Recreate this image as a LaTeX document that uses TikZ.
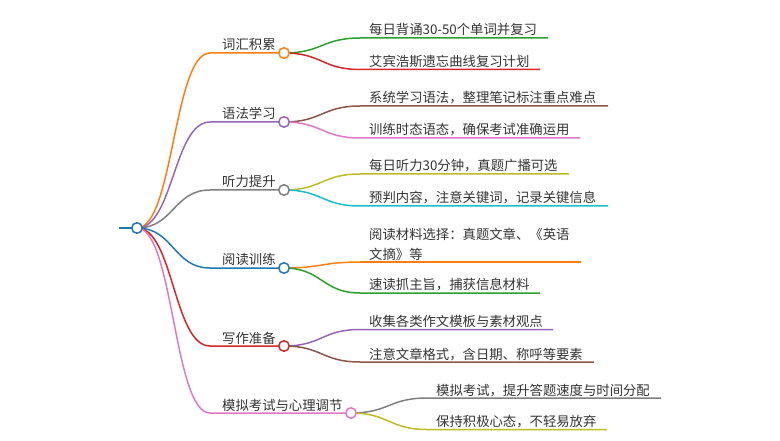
\documentclass[tikz,border=0pt]{standalone}
\usepackage{fontspec}
\setmainfont{Noto Sans CJK SC}
\usetikzlibrary{backgrounds}
\definecolor{cblue}{HTML}{1F77B4}
\definecolor{corange}{HTML}{FF7F0E}
\definecolor{cgreen}{HTML}{2CA02C}
\definecolor{cred}{HTML}{D62728}
\definecolor{cpurple}{HTML}{9467BD}
\definecolor{cbrown}{HTML}{8C564B}
\definecolor{cpink}{HTML}{E377C2}
\definecolor{cgray}{HTML}{7F7F7F}
\definecolor{colive}{HTML}{BCBD22}
\definecolor{ccyan}{HTML}{17BECF}
\definecolor{txt}{HTML}{333333}
\begin{document}
\begin{tikzpicture}[x=1pt,y=-1pt,
  dot/.style={circle,draw,fill=white,line width=1.5pt,minimum size=10.5pt,inner sep=0pt},
  lbl/.style={anchor=base west,inner sep=0pt,text=txt,font=\fontsize{13.35}{19}\selectfont},
  link/.style={line width=1.5pt}]
\useasboundingbox (0,0) rectangle (780,441);

% root
\node[dot,draw=cblue] (root) at (137,228) {};
\coordinate (rl) at (119,228);

% level 1 circles
\node[dot,draw=corange] (n1) at (284,53) {};
\node[dot,draw=cpurple] (n2) at (284,122) {};
\node[dot,draw=cgray] (n3) at (284,190) {};
\node[dot,draw=cblue] (n4) at (284,268) {};
\node[dot,draw=cred] (n5) at (284,346) {};
\node[dot,draw=cpink] (n6) at (351,413) {};

% level 1 straight starts
\coordinate (s1) at (210,53);
\coordinate (s2) at (210,122);
\coordinate (s3) at (210,190);
\coordinate (s4) at (210,268);
\coordinate (s5) at (210,346);
\coordinate (s6) at (210,413);

% level 1 labels
\node[lbl] (t1) at (222,50) {词汇积累};
\node[lbl] (t2) at (222,119) {语法学习};
\node[lbl] (t3) at (222,187) {听力提升};
\node[lbl] (t4) at (222,265) {阅读训练};
\node[lbl] (t5) at (222,343) {写作准备};
\node[lbl] (t6) at (222,410) {模拟考试与心理调节};

% level 2 coordinates
\coordinate (a11) at (360,38);   \coordinate (b11) at (548,38);
\coordinate (a12) at (360,69.5); \coordinate (b12) at (540,69.5);
\coordinate (a21) at (360,106);  \coordinate (b21) at (608,106);
\coordinate (a22) at (360,138);  \coordinate (b22) at (580,138);
\coordinate (a31) at (360,174);  \coordinate (b31) at (569,174);
\coordinate (a32) at (360,206);  \coordinate (b32) at (608,206);
\coordinate (a41) at (360,262);  \coordinate (b41) at (581,262);
\coordinate (a42) at (360,293);  \coordinate (b42) at (540,293);
\coordinate (a51) at (360,329.5);\coordinate (b51) at (553,329.5);
\coordinate (a52) at (360,362);  \coordinate (b52) at (594,362);
\coordinate (a61) at (427,398);  \coordinate (b61) at (661,398);
\coordinate (a62) at (427,429.5);\coordinate (b62) at (607,429.5);

% level 2 labels
\node[lbl] (u11) at (369,35) {每日背诵30-50个单词并复习};
\node[lbl] (u12) at (369,66.5) {艾宾浩斯遗忘曲线复习计划};
\node[lbl] (u21) at (369,103) {系统学习语法，整理笔记标注重点难点};
\node[lbl] (u22) at (369,135) {训练时态语态，确保考试准确运用};
\node[lbl] (u31) at (369,171) {每日听力30分钟，真题广播可选};
\node[lbl] (u32) at (369,203) {预判内容，注意关键词，记录关键信息};
\node[lbl] (u41a) at (369,240) {阅读材料选择：真题文章、《英语};
\node[lbl] (u41b) at (369,259) {文摘》等};
\node[lbl] (u42) at (369,290) {速读抓主旨，捕获信息材料};
\node[lbl] (u51) at (369,326.5) {收集各类作文模板与素材观点};
\node[lbl] (u52) at (369,359) {注意文章格式，含日期、称呼等要素};
\node[lbl] (u61) at (436,395) {模拟考试，提升答题速度与时间分配};
\node[lbl] (u62) at (436,426.5) {保持积极心态，不轻易放弃};

\begin{scope}[on background layer]
\draw[link,cblue] (rl) -- (root.center);
\draw[link,corange] (root.center) .. controls (173.5,228) and (173.5,53) .. (s1) -- (n1.center);
\draw[link,cpurple] (root.center) .. controls (173.5,228) and (173.5,122) .. (s2) -- (n2.center);
\draw[link,cgray] (root.center) .. controls (173.5,228) and (173.5,190) .. (s3) -- (n3.center);
\draw[link,cblue] (root.center) .. controls (173.5,228) and (173.5,268) .. (s4) -- (n4.center);
\draw[link,cred] (root.center) .. controls (173.5,228) and (173.5,346) .. (s5) -- (n5.center);
\draw[link,cpink] (root.center) .. controls (173.5,228) and (173.5,413) .. (s6) -- (n6.center);

\draw[link,cgreen] (n1.center) .. controls (322,53) and (322,38) .. (a11) -- (b11);
\draw[link,cred] (n1.center) .. controls (322,53) and (322,69.5) .. (a12) -- (b12);
\draw[link,cbrown] (n2.center) .. controls (322,122) and (322,106) .. (a21) -- (b21);
\draw[link,cpink] (n2.center) .. controls (322,122) and (322,138) .. (a22) -- (b22);
\draw[link,colive] (n3.center) .. controls (322,190) and (322,174) .. (a31) -- (b31);
\draw[link,ccyan] (n3.center) .. controls (322,190) and (322,206) .. (a32) -- (b32);
\draw[link,corange] (n4.center) .. controls (322,268) and (322,262) .. (a41) -- (b41);
\draw[link,cgreen] (n4.center) .. controls (322,268) and (322,293) .. (a42) -- (b42);
\draw[link,cpurple] (n5.center) .. controls (322,346) and (322,329.5) .. (a51) -- (b51);
\draw[link,cbrown] (n5.center) .. controls (322,346) and (322,362) .. (a52) -- (b52);
\draw[link,cgray] (n6.center) .. controls (389,413) and (389,398) .. (a61) -- (b61);
\draw[link,colive] (n6.center) .. controls (389,413) and (389,429.5) .. (a62) -- (b62);
\end{scope}
\end{tikzpicture}
\end{document}
